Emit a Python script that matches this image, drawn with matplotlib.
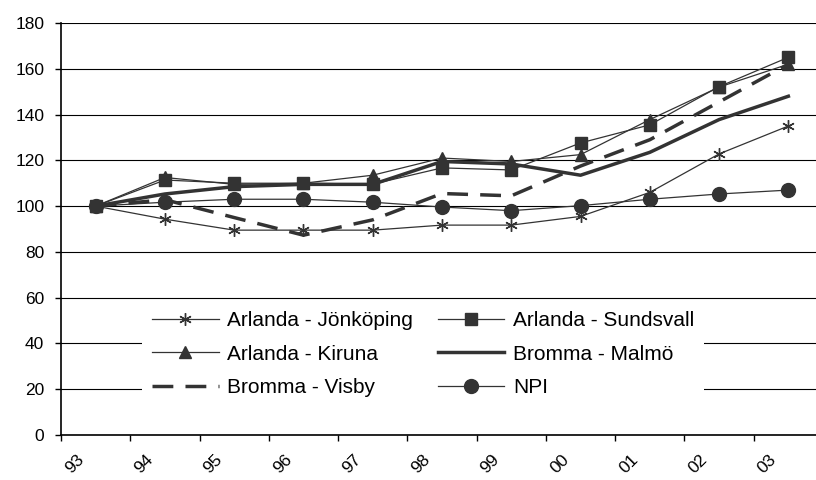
import matplotlib
matplotlib.use('Agg')
import matplotlib.pyplot as plt
import matplotlib.transforms as mtransforms

years = ['93', '94', '95', '96', '97', '98', '99', '00', '01', '02', '03']

jonkoping = [100, 94.3, 89.5, 89.5, 89.5, 91.7, 91.7, 95.5, 106, 122.8, 135]
sundsvall = [100, 111.4, 110, 110, 109.6, 116.7, 115.8, 127.6, 135.5, 152.2, 165]
kiruna = [100, 112.5, 109.5, 110, 113.5, 121, 119.5, 122.5, 137.8, 152, 162]
malmo = [100, 105.3, 108.5, 109.5, 109.5, 119.5, 118.4, 113.5, 123.5, 137.8, 148]
visby = [100, 102.8, 95, 87.3, 94, 105.5, 104.5, 117.5, 129, 145.5, 162]
npi = [100, 101.7, 103, 103, 101.7, 99.6, 98, 100.2, 103, 105.3, 107]

plt.rcParams['font.family'] = ['Liberation Sans', 'DejaVu Sans']

col = '#333333'
fig = plt.figure(figsize=(8.16, 4.8), dpi=100)
ax = fig.add_axes([61/816, 45/480, 762/816, 412/480])

x = range(len(years))
l1, = ax.plot(x, jonkoping, color=col, lw=0.9, marker=(6, 2, 0), ms=9, mew=1,
              label='Arlanda - Jönköping')
l2, = ax.plot(x, sundsvall, color=col, lw=0.9, marker='s', ms=8, label='Arlanda - Sundsvall')
l3, = ax.plot(x, kiruna, color=col, lw=0.9, marker='^', ms=8, label='Arlanda - Kiruna')
l4, = ax.plot(x, malmo, color=col, lw=2.5, label='Bromma - Malmö')
l5, = ax.plot(x, visby, color=col, lw=2.5, dashes=(6, 3.5), label='Bromma - Visby')
l6, = ax.plot(x, npi, color=col, lw=0.9, marker='o', ms=10, label='NPI')

ax.set_xlim(-0.5, 10.5)
ax.set_ylim(0, 180)
ax.set_yticks(range(0, 181, 20))
ax.yaxis.grid(True, color='black', lw=0.8)
ax.set_axisbelow(True)
ax.spines['top'].set_visible(False)
ax.spines['right'].set_visible(False)
ax.spines['left'].set_linewidth(1.2)
ax.spines['bottom'].set_linewidth(1.2)

ax.set_xticks(list(x))
ax.set_xticklabels(years)
ax.set_xticks([i - 0.5 for i in range(len(years) + 1)], minor=True)
ax.tick_params(axis='x', which='major', length=0, pad=21, labelsize=12.5)
ax.tick_params(axis='x', which='minor', length=4, width=1, direction='out')
ax.tick_params(axis='y', length=4, width=1, labelsize=12.5, pad=8)
off = mtransforms.ScaledTranslation(-21/100, 0, fig.dpi_scale_trans)
for lab in ax.get_xticklabels():
    lab.set_rotation(45)
    lab.set_rotation_mode('anchor')
    lab.set_ha('center')
    lab.set_va('center')
    lab.set_transform(lab.get_transform() + off)

# legend filled row by row like the original
handles = [l1, l3, l5, l2, l4, l6]
leg = ax.legend(handles=handles, ncol=2, loc='center',
                bbox_to_anchor=(423/816, 1 - 354/480),
                bbox_transform=fig.transFigure, fontsize=15, frameon=True,
                handlelength=3.2, handletextpad=0.4, columnspacing=1.2,
                labelspacing=0.7, borderpad=0.5, fancybox=False)
leg.get_frame().set_facecolor('white')
leg.get_frame().set_edgecolor('none')
leg.get_frame().set_alpha(1)

fig.savefig('out.png', dpi=100)
